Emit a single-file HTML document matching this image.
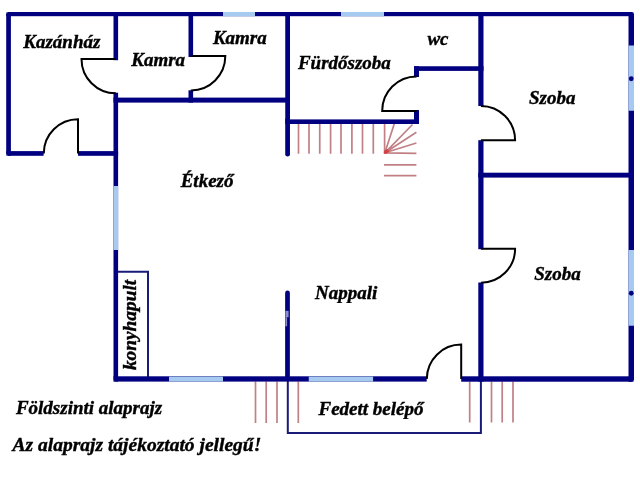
<!DOCTYPE html>
<html><head><meta charset="utf-8">
<style>
html,body{margin:0;padding:0;background:#fff;}
body{width:640px;height:480px;overflow:hidden;position:relative;}
svg{position:absolute;left:0;top:0;}
text{font-family:"Liberation Serif",serif;font-weight:bold;font-style:italic;font-size:19px;fill:#000;stroke:#000;stroke-width:0.4px;filter:grayscale(1);}
</style></head>
<body>
<svg width="640" height="480" viewBox="0 0 640 480">
<g stroke="#c08086" stroke-width="1.7" fill="none">
<path d="M298.5 124V153.7M309 124V153.7M319.75 124V153.7M330.6 124V153.7M341 124V153.7M351.9 124V153.7M362.5 124V153.7M373.3 124V153.7M384.6 124V153.7"/>
<path d="M384.9 152.8L394.2 124M384.9 152.8L412.5 124.5M384.9 152.8L416.4 132.3M384.9 152.8L416.4 143M384.9 152.8L416.4 153.3"/>
<path d="M384 164.9H416.4M384 175.6H416.4"/>
<path d="M255.5 381.6V423M266.2 381.6V423M277 381.6V423M298.3 381.6V423M469.7 381.6V422.5M491.5 381.6V422.5M502.2 381.6V422.5M513 381.6V422.5"/>
</g>
<ellipse cx="386.3" cy="151.6" rx="2.9" ry="1.9" transform="rotate(-35 386.3 151.6)" fill="#e02424" opacity="0.7"/>
<g stroke="#1a1a78" stroke-width="2" fill="none">
<path d="M287.8 379V433H480.9V379"/>
<path d="M118 271.8H148V377"/>
</g>
<g fill="#000080">
<rect x="6.2" y="12" width="627.8" height="4.2"/>
<rect x="6.2" y="12" width="4.7" height="143.8"/>
<rect x="6.2" y="151.1" width="37.4" height="4.7"/>
<rect x="78" y="151.1" width="40.1" height="4.7"/>
<rect x="113.5" y="12" width="4.6" height="48.2"/>
<rect x="113.5" y="92.7" width="4.6" height="288.9"/>
<rect x="113.5" y="97.6" width="176.5" height="5"/>
<rect x="188.5" y="12" width="4.6" height="45"/>
<rect x="188.5" y="90.3" width="4.6" height="12.3"/>
<rect x="285.25" y="12" width="4.75" height="108"/>
<rect x="285.25" y="119.4" width="133.75" height="4.6"/>
<rect x="414" y="66.25" width="69.5" height="4.65"/>
<rect x="414" y="66.25" width="5" height="10.75"/>
<rect x="414" y="110" width="5" height="14"/>
<rect x="478.3" y="12" width="5.2" height="94"/>
<rect x="478.3" y="140.2" width="5.2" height="109"/>
<rect x="478.3" y="282.5" width="5.2" height="99.1"/>
<rect x="478.3" y="172.7" width="155.7" height="4.9"/>
<rect x="628.5" y="12" width="5.5" height="369.8"/>
<rect x="113.5" y="376.3" width="313.2" height="5.3"/>
<rect x="461.2" y="376.3" width="172.8" height="5.4"/>
</g>
<g stroke="#000080" stroke-width="4.75" stroke-linecap="round" fill="none">
<path d="M287.6 120V154.2"/>
<path d="M287.5 292.9V378"/>
</g>
<g fill="#a6caf0">
<rect x="223" y="12" width="32" height="4.2"/>
<rect x="341" y="12" width="43" height="4.2"/>
<rect x="628.5" y="45.5" width="5.5" height="65.25"/>
<rect x="628.5" y="250" width="5.5" height="75.75"/>
<rect x="113.5" y="186" width="4.6" height="64"/>
<rect x="169" y="376.6" width="54" height="5"/>
<rect x="308.75" y="376.6" width="64.35" height="5"/>
</g>
<g fill="#8c8cd0"><rect x="285.4" y="310.8" width="3.2" height="6.5"/><rect x="285.4" y="317.3" width="1.7" height="9"/></g>
<g fill="#fff">
<path d="M634 12h-2.2a2.2 2.2 0 0 1 2.2 2.2z"/>
<path d="M634 381.7h-2.2a2.2 2.2 0 0 0 2.2 -2.2z"/>
<path d="M6.2 12h2.2a2.2 2.2 0 0 0 -2.2 2.2z"/>
<path d="M6.2 155.8h2.2a2.2 2.2 0 0 1 -2.2 -2.2z"/>
<path d="M113.5 381.6h2.2a2.2 2.2 0 0 1 -2.2 -2.2z"/>
</g>
<g fill="#000080">
<circle cx="631.25" cy="78.75" r="2.4"/>
<circle cx="631.25" cy="293.25" r="2.4"/>
</g>
<g stroke="#000" stroke-width="2" fill="none">
<path d="M115.8 59H81.5A34.3 34.3 0 0 0 115.8 93.3"/>
<path d="M190.8 56.1H225.3A34.3 34.3 0 0 1 190.8 90.4"/>
<path d="M78 153.4V119.2A34.2 34.2 0 0 0 43.8 153.4"/>
<path d="M416.6 76.5A34.4 34.4 0 0 0 382.2 110.9H416.6"/>
<path d="M480.9 106A34.2 34.2 0 0 1 515.1 140.2H480.9"/>
<path d="M480.9 248.7H515.1A34 34 0 0 1 480.9 282.7"/>
<path d="M461.2 379V344.6A34.4 34.4 0 0 0 426.8 379"/>
</g>
<text x="23.3" y="47.8">Kazánház</text>
<text x="131.25" y="66">Kamra</text>
<text x="212.9" y="43.75">Kamra</text>
<text x="297.9" y="69">Fürdőszoba</text>
<text x="427.4" y="45.3">wc</text>
<text x="529" y="103.9">Szoba</text>
<text x="534.3" y="280">Szoba</text>
<text x="180.7" y="186.6">Étkező</text>
<text x="315" y="298.5">Nappali</text>
<text x="15.9" y="414.4">Földszinti alaprajz</text>
<text x="318.5" y="414.5">Fedett belépő</text>
<text x="12.6" y="451.2" style="font-size:19.5px">Az alaprajz tájékoztató jellegű!</text>
<text transform="translate(135.5 370.1) rotate(-90)" style="font-size:19.35px">konyhapult</text>
</svg>
</body></html>
